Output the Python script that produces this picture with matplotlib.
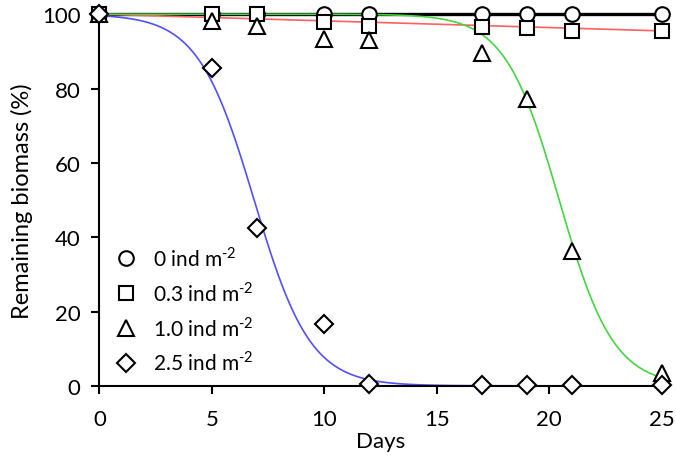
import numpy as np
import matplotlib
matplotlib.use('Agg')
import matplotlib.pyplot as plt
from matplotlib.lines import Line2D

plt.rcParams['font.family'] = ['Lato', 'DejaVu Sans']
plt.rcParams['mathtext.fontset'] = 'custom'
plt.rcParams['mathtext.rm'] = 'Lato'

# 取样日与各密度下的剩余生物量 (%)
days = [0, 5, 7, 10, 12, 17, 19, 21, 25]
bio_0 = [100, 100, 100, 100, 100, 100, 100, 100, 100]
bio_03 = [100, 100, 100, 97.8, 96.9, 96.5, 96.4, 95.5, 95.5]
bio_10 = [100, 98.2, 96.8, 93.3, 93.0, 89.5, 77.2, 36.3, 3.5]
bio_25 = [100, 85.5, 42.5, 16.7, 0.4, 0.2, 0.2, 0.2, 0.2]

labels = ['0 ind m$^{\\mathregular{\u20102}}$', '0.3 ind m$^{\\mathregular{\u20102}}$',
          '1.0 ind m$^{\\mathregular{\u20102}}$', '2.5 ind m$^{\\mathregular{\u20102}}$']
markers = ['o', 's', '^', 'D']

# 拟合曲线参数
line_03 = [100, 95.5]          # 线性：起点、终点
logit_10 = [20.44, 0.83]       # 半衰日, 斜率
logit_25 = [6.88, 0.80]

fig = plt.figure(figsize=(6.76, 4.60), dpi=100)
ax = fig.add_axes([0.147, 0.159, 0.832, 0.808])

t = np.linspace(0, 25, 400)
ax.plot([0, 25], [100, 100], color='black', lw=2.4, zorder=2, clip_on=False)
ax.plot([0, 25], line_03, color='#ff6060', lw=1.2, zorder=2, clip_on=False)
ax.plot(t, 100 / (1 + np.exp(logit_10[1] * (t - logit_10[0]))), color='#44d444', lw=1.2, zorder=2, clip_on=False)
ax.plot(t, 100 / (1 + np.exp(logit_25[1] * (t - logit_25[0]))), color='#5050ff', lw=1.2, zorder=2, clip_on=False)

series = [bio_0, bio_03, bio_10, bio_25]
sizes = [10.5, 10.5, 11, 9]
for i, ys in enumerate(series):
    ax.plot(days, ys, linestyle='none', marker=markers[i], ms=sizes[i],
            mfc='white', mec='black', mew=1.5, clip_on=False, zorder=3 + i)

ax.set_xlim(0, 25)
ax.set_ylim(0, 100)
ax.set_xticks(np.arange(0, 26, 5))
ax.set_yticks(np.arange(0, 101, 20))
ax.set_xlabel('Days', fontsize=16)
ax.set_ylabel('Remaining biomass (%)', fontsize=17)
ax.xaxis.set_label_coords(0.5, -0.121)
ax.yaxis.set_label_coords(-0.118, 0.5)

ax.spines['top'].set_color('none')
ax.spines['right'].set_color('none')
ax.spines['left'].set_linewidth(1.5)
ax.spines['bottom'].set_linewidth(1.5)
ax.tick_params(direction='out', length=6, width=1.5, labelsize=16)
ax.tick_params(axis='x', pad=10.5)
ax.tick_params(axis='y', pad=7.5)

handles = [Line2D([], [], linestyle='none', marker=markers[i], ms=sizes[i],
                  mfc='white', mec='black', mew=1.5) for i in range(4)]
ax.legend(handles, labels, loc='upper left', bbox_to_anchor=(0.003, 0.416),
          frameon=False, fontsize=15, handletextpad=0.8, labelspacing=0.52,
          handlelength=1.0, borderaxespad=0.3)

fig.savefig('out.png', dpi=100)
